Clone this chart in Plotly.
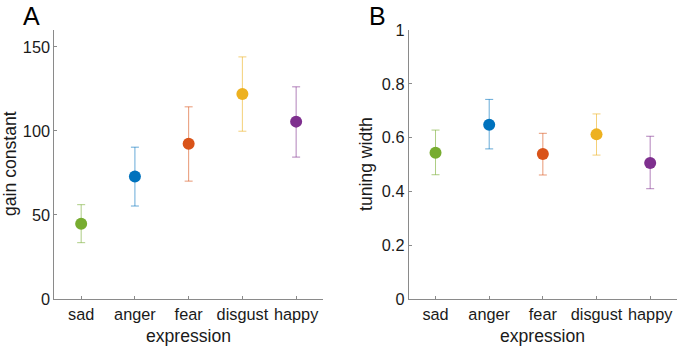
import plotly.graph_objects as go

categories = ["sad", "anger", "fear", "disgust", "happy"]
colors = ["#77AC30", "#0072BD", "#D95319", "#EDB120", "#7E2F8E"]
bar_colors = ["rgba(119,172,48,0.6)", "rgba(0,114,189,0.6)", "rgba(217,83,25,0.6)",
              "rgba(237,177,32,0.6)", "rgba(126,47,142,0.6)"]

gain = [44.7, 72.8, 92.3, 122.0, 105.5]
gain_upper = [56.1, 90.3, 114.3, 144.0, 126.2]
gain_lower = [33.5, 55.3, 70.1, 99.8, 84.4]

width = [0.544, 0.648, 0.539, 0.612, 0.506]
width_upper = [0.628, 0.742, 0.616, 0.688, 0.605]
width_lower = [0.462, 0.558, 0.461, 0.535, 0.410]

gain_ticks = [0, 50, 100, 150]
width_ticks = [0, 0.2, 0.4, 0.6, 0.8, 1]
width_ticktext = ["0", "0.2", "0.4", "0.6", "0.8", "1"]

xpos = list(range(1, len(categories) + 1))

fig = go.Figure()

def add_panel(vals, up, lo, xa, ya):
    for i, c in enumerate(categories):
        fig.add_trace(go.Scatter(
            x=[xpos[i]], y=[vals[i]], mode="markers",
            marker=dict(size=12, color=colors[i], line=dict(width=0)),
            error_y=dict(type="data", symmetric=False,
                         array=[up[i] - vals[i]], arrayminus=[vals[i] - lo[i]],
                         color=bar_colors[i], thickness=1, width=4),
            xaxis=xa, yaxis=ya, showlegend=False, name=c))

add_panel(gain, gain_upper, gain_lower, "x", "y")
add_panel(width, width_upper, width_lower, "x2", "y2")

font = "Liberation Sans, Arial, Helvetica, sans-serif"
axcol = "#8a8a8a"
common_x = dict(range=[0.5, 5.5], tickvals=xpos, ticktext=categories, showline=True,
                linecolor=axcol, linewidth=1, ticks="inside", ticklen=3, tickcolor=axcol,
                showgrid=False, zeroline=False, fixedrange=True, automargin=False,
                tickfont=dict(size=16.3, color="#1a1a1a", family=font))
common_y = dict(showline=True, linecolor=axcol, linewidth=1, ticks="inside", ticklen=3,
                tickcolor=axcol, showgrid=False, zeroline=False, automargin=False,
                tickfont=dict(size=16.3, color="#1a1a1a", family=font))

ydom = [47 / 346, 316 / 346]
title_font = dict(size=17.6, family=font, color="#1a1a1a")
fig.update_layout(
    width=678, height=346,
    margin=dict(l=0, r=0, t=0, b=0, pad=0),
    paper_bgcolor="white", plot_bgcolor="white",
    font=dict(family=font, color="#1a1a1a"),
    xaxis=dict(domain=[54.3 / 678, 323 / 678], anchor="y", **common_x),
    yaxis=dict(domain=ydom, anchor="x", range=[0, 160], tickvals=gain_ticks, **common_y),
    xaxis2=dict(domain=[408.7 / 678, 677 / 678], anchor="y2", **common_x),
    yaxis2=dict(domain=ydom, anchor="x2", range=[0, 1], tickvals=width_ticks,
                ticktext=width_ticktext, **common_y),
    annotations=[
        dict(text="A", x=31.7 / 678, y=1, xref="paper", yref="paper",
             showarrow=False, font=dict(size=25, family=font, color="black"),
             xanchor="center", yanchor="top"),
        dict(text="B", x=377.5 / 678, y=1, xref="paper", yref="paper",
             showarrow=False, font=dict(size=25, family=font, color="black"),
             xanchor="center", yanchor="top"),
        dict(text="gain constant", x=10 / 678, y=(346 - 164) / 346, xref="paper", yref="paper",
             showarrow=False, textangle=-90, font=title_font,
             xanchor="center", yanchor="middle"),
        dict(text="tuning width", x=366 / 678, y=(346 - 164) / 346, xref="paper", yref="paper",
             showarrow=False, textangle=-90, font=title_font,
             xanchor="center", yanchor="middle"),
        dict(text="expression", x=188.6 / 678, y=(346 - 336) / 346, xref="paper", yref="paper",
             showarrow=False, font=title_font,
             xanchor="center", yanchor="middle"),
        dict(text="expression", x=542.8 / 678, y=(346 - 336) / 346, xref="paper", yref="paper",
             showarrow=False, font=title_font,
             xanchor="center", yanchor="middle"),
    ],
)

fig.write_html("out.html", config={"displayModeBar": False},
               post_script="document.body.style.margin='0';document.body.style.overflow='hidden';")
